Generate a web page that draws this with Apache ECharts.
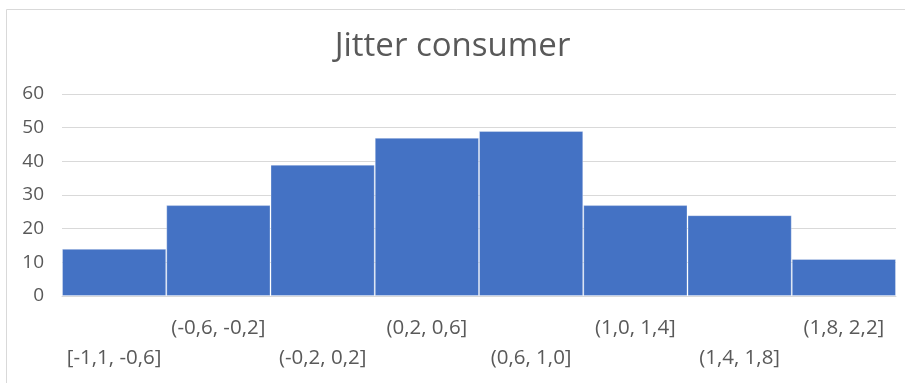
<!DOCTYPE html>
<html>
<head>
<meta charset="utf-8">
<script src="https://cdn.jsdelivr.net/npm/echarts@6/dist/echarts.min.js"></script>
<style>
html,body{margin:0;padding:0;background:#fff;}
#chart{width:905px;height:383px;}
</style>
</head>
<body>
<div id="chart"></div>
<script>
var categories = ['[-1,1, -0,6]', '(-0,6, -0,2]', '(-0,2, 0,2]', '(0,2, 0,6]', '(0,6, 1,0]', '(1,0, 1,4]', '(1,4, 1,8]', '(1,8, 2,2]'];
var counts = [14, 27, 39, 47, 49, 27, 24, 11];
var yTicks = [0, 10, 20, 30, 40, 50, 60];

var font = 'Open Sans';
var chart = echarts.init(document.getElementById('chart'));
chart.setOption({
  animation: false,
  backgroundColor: '#fff',
  title: {
    text: 'Jitter consumer',
    left: 'center',
    top: 25,
    textStyle: {fontFamily: font, fontSize: 33, fontWeight: 'normal', color: '#595959'}
  },
  grid: {left: 62, right: 9, top: 94, bottom: 87},
  xAxis: {
    type: 'category',
    data: categories,
    axisLine: {show: true, lineStyle: {color: '#d9d9d9', width: 1}},
    axisTick: {show: false},
    axisLabel: {
      interval: 0,
      margin: 17,
      fontFamily: font,
      fontSize: 20.5,
      color: '#595959',
      lineHeight: 30,
      formatter: function (v, i) { return i % 2 === 0 ? '\n' + v : v + '\n'; }
    }
  },
  yAxis: {
    type: 'value',
    min: yTicks[0],
    max: yTicks[yTicks.length - 1],
    interval: 10,
    axisLine: {show: false},
    axisTick: {show: false},
    axisLabel: {margin: 18, fontFamily: font, fontSize: 19, color: '#595959'},
    splitLine: {lineStyle: {color: '#d9d9d9', width: 1}}
  },
  series: [{
    type: 'bar',
    data: counts,
    barCategoryGap: 0,
    itemStyle: {color: '#4472c4', borderColor: 'rgba(255,255,255,0.3)', borderWidth: 1}
  }],
  graphic: [{
    type: 'rect',
    shape: {x: 6.5, y: 9.5, width: 905, height: 380},
    style: {fill: 'none', stroke: '#d9d9d9', lineWidth: 1},
    silent: true
  }]
});
</script>
</body>
</html>
